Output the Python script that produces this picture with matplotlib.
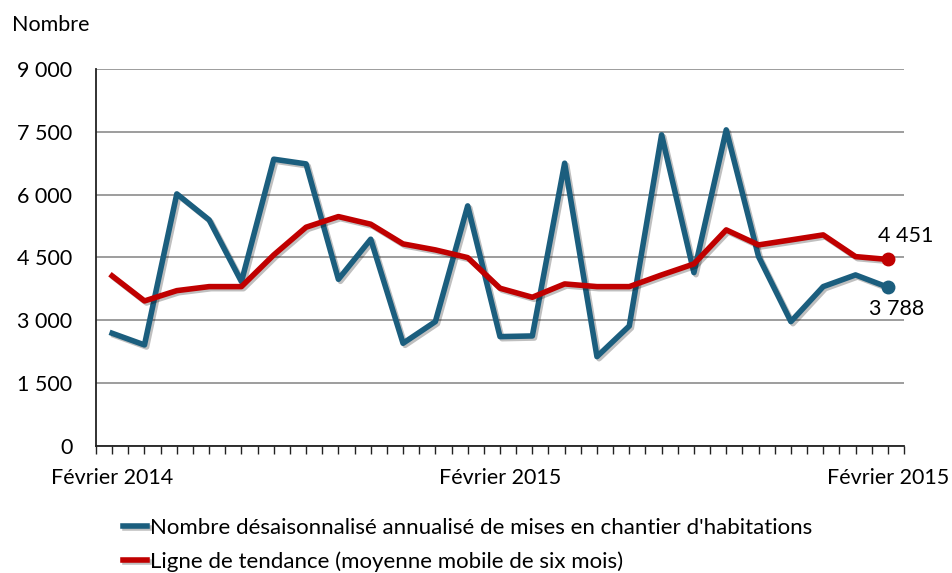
import numpy as np
import matplotlib.pyplot as plt
import matplotlib.patheffects as pe

# monthly values, Feb 2014 .. Feb 2016
mises_en_chantier = [2690, 2411, 6015, 5395, 3922, 6843, 6731, 3978, 4934, 2451,
                     2968, 5729, 2610, 2626, 6748, 2132, 2864, 7424, 4137, 7543,
                     4519, 2968, 3803, 4082, 3788]
tendance = [4058, 3461, 3707, 3803, 3803, 4559, 5220, 5474, 5292, 4822,
            4679, 4495, 3764, 3549, 3867, 3803, 3803, 4082, 4344, 5156,
            4798, 4917, 5037, 4519, 4451]
x_labels = {0: "Février 2014", 12: "Février 2015", 24: "Février 2015"}
y_ticks = [0, 1500, 3000, 4500, 6000, 7500, 9000]

blue = "#1b5e7e"
red = "#c00000"

plt.rcParams['font.family'] = ['Lato', 'DejaVu Sans']

fig = plt.figure(figsize=(9.53, 5.73), dpi=100)
ax = fig.add_axes([96/953, 1 - 446/573, (904 - 96)/953, (446 - 68.8)/573])

x = np.arange(len(mises_en_chantier))
shadow = [pe.SimpleLineShadow(offset=(1.5, -1.5), alpha=0.25), pe.Normal()]
l1, = ax.plot(x, mises_en_chantier, color=blue, lw=4, path_effects=shadow,
              label="Nombre désaisonnalisé annualisé de mises en chantier d'habitations")
l2, = ax.plot(x, tendance, color=red, lw=4, path_effects=shadow,
              label="Ligne de tendance (moyenne mobile de six mois)")
ax.plot(x[-1], mises_en_chantier[-1], 'o', color=blue, ms=9)
ax.plot(x[-1], tendance[-1], 'o', color=red, ms=9)

def fr(v):
    return f"{v:,}".replace(",", " ")

ax.annotate(fr(tendance[-1]), (x[-1], tendance[-1]), xytext=(13, 17),
            textcoords='offset points', ha='center', va='center', fontsize=15.5)
ax.annotate(fr(mises_en_chantier[-1]), (x[-1], mises_en_chantier[-1]), xytext=(6, -16),
            textcoords='offset points', ha='center', va='center', fontsize=15.5)

ax.set_xlim(-0.5, len(x) - 0.5)
ax.set_ylim(0, 9000)
ax.set_yticks(y_ticks)
ax.set_yticklabels([fr(v) for v in y_ticks], fontsize=15.5)
ax.tick_params(axis='y', length=0, pad=17)
ax.grid(axis='y', color='#8c8c8c', lw=1.2)
ax.set_axisbelow(True)

ax.set_xticks(list(x_labels.keys()))
ax.set_xticklabels(list(x_labels.values()), fontsize=15.5)
ax.set_xticks(np.arange(-0.5, len(x), 0.5), minor=True)
ax.tick_params(axis='x', which='both', length=6, width=1, color='#222222', pad=10)

for s in ['top', 'right']:
    ax.spines[s].set_visible(False)
ax.spines['left'].set_color('#222222')
ax.spines['bottom'].set_color('#222222')
ax.spines['left'].set_linewidth(1.3)
ax.spines['bottom'].set_linewidth(1.3)

fig.text(12/953, 1 - 25/573, "Nombre", fontsize=15.5, va='center', ha='left')

fig.legend(handles=[l1, l2], loc='upper left', bbox_to_anchor=(114/953, 1 - 509/573),
           frameon=False, fontsize=16, handlelength=1.1, handletextpad=0.1,
           labelspacing=0.6, borderaxespad=0)

fig.savefig("out.png", dpi=100)
